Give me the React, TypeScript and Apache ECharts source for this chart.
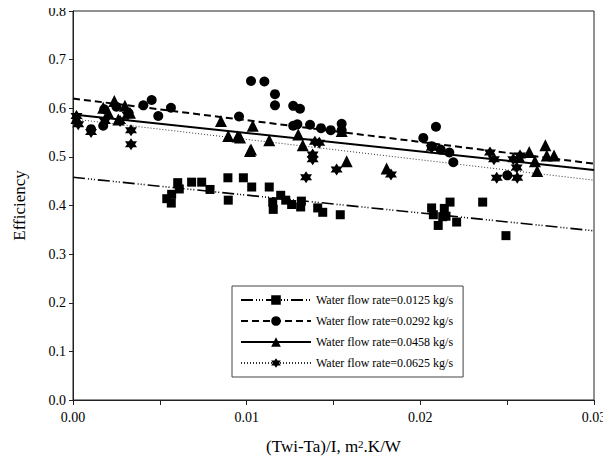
import React, { useEffect, useRef } from "react";
import * as echarts from "echarts";

const legendNames = [
  "Water flow rate=0.0125 kg/s",
  "Water flow rate=0.0292 kg/s",
  "Water flow rate=0.0458 kg/s",
  "Water flow rate=0.0625 kg/s",
];

const xTicks = [0, 0.01, 0.02, 0.03];
const yTicks = [0, 0.1, 0.2, 0.3, 0.4, 0.5, 0.6, 0.7, 0.8];

const squarePts: [number, number][] = [
  [0.0054, 0.414], [0.00568, 0.423], [0.00566, 0.405], [0.00603, 0.447], [0.00612, 0.434],
  [0.00683, 0.448], [0.00741, 0.448], [0.00789, 0.433], [0.00892, 0.457], [0.00894, 0.411],
  [0.00981, 0.457], [0.01029, 0.438], [0.0113, 0.438], [0.01196, 0.421], [0.0115, 0.407],
  [0.01153, 0.392], [0.01225, 0.411], [0.01259, 0.402], [0.01315, 0.409], [0.01311, 0.397],
  [0.01409, 0.395], [0.01438, 0.386], [0.01539, 0.381], [0.02065, 0.395], [0.02075, 0.381],
  [0.02103, 0.359], [0.02171, 0.407], [0.02138, 0.394], [0.02129, 0.377], [0.02148, 0.378],
  [0.02209, 0.366], [0.02359, 0.407], [0.02493, 0.338],
];

const circlePts: [number, number][] = [
  [0.00104, 0.557], [0.00174, 0.564], [0.0018, 0.598], [0.0025, 0.603], [0.0032, 0.59],
  [0.00405, 0.606], [0.00453, 0.617], [0.00491, 0.584], [0.00564, 0.601], [0.00956, 0.583],
  [0.01025, 0.656], [0.01102, 0.655], [0.01163, 0.629], [0.01163, 0.606], [0.01268, 0.605],
  [0.01307, 0.599], [0.01268, 0.564], [0.01292, 0.567], [0.01365, 0.566], [0.01428, 0.559],
  [0.01484, 0.555], [0.01547, 0.568], [0.01547, 0.555], [0.02017, 0.539], [0.0209, 0.562],
  [0.02065, 0.522], [0.02117, 0.515], [0.02167, 0.509], [0.0219, 0.489], [0.02501, 0.462],
];

const trianglePts: [number, number][] = [
  [0.0002, 0.58], [0.00174, 0.601], [0.00238, 0.615], [0.00299, 0.605], [0.00203, 0.591],
  [0.00261, 0.577], [0.00328, 0.591], [0.00852, 0.574], [0.00894, 0.543], [0.00948, 0.542],
  [0.01019, 0.512], [0.01035, 0.564], [0.00962, 0.54], [0.01025, 0.515], [0.0113, 0.534],
  [0.01297, 0.546], [0.01323, 0.524], [0.01547, 0.553], [0.01576, 0.491], [0.01806, 0.476],
  [0.02627, 0.51], [0.0272, 0.524], [0.02728, 0.503], [0.0277, 0.503], [0.0266, 0.491],
  [0.02673, 0.471], [0.0257, 0.5],
];

const starPts: [number, number][] = [
  [0.0002, 0.584], [0.0003, 0.567], [0.00104, 0.551], [0.00334, 0.555], [0.00334, 0.526],
  [0.00184, 0.574], [0.00271, 0.574], [0.00315, 0.586], [0.0138, 0.505], [0.0138, 0.495],
  [0.01393, 0.531], [0.01418, 0.529], [0.01518, 0.474], [0.01342, 0.458], [0.01831, 0.464],
  [0.02065, 0.519], [0.02401, 0.509], [0.02424, 0.495], [0.0244, 0.457], [0.02535, 0.495],
  [0.02555, 0.478], [0.02558, 0.457], [0.02574, 0.503],
];

const fitSquare: [number, number][] = [[0, 0.458], [0.03, 0.348]];
const fitCircle: [number, number][] = [[0, 0.62], [0.03, 0.486]];
const fitTriangle: [number, number][] = [[0, 0.587], [0.03, 0.473]];
const fitStar: [number, number][] = [[0, 0.578], [0.03, 0.452]];

const STAR =
  "path://M0,-10 L2.887,-5 L8.66,-5 L5.774,0 L8.66,5 L2.887,5 L0,10 L-2.887,5 L-8.66,5 L-5.774,0 L-8.66,-5 L-2.887,-5 Z";

const FONT = "'Liberation Serif', 'Times New Roman', serif";

export default function App() {
  const ref = useRef<HTMLDivElement>(null);
  useEffect(() => {
    if (!ref.current) return;
    const chart = echarts.init(ref.current, undefined, { renderer: "svg" });
    const lineSeries = (name: string, data: [number, number][], symbol: string, lineStyle: any) => ({
      name,
      type: "line",
      data,
      symbol,
      showSymbol: false,
      itemStyle: { color: "#000" },
      lineStyle,
      silent: true,
      z: 2,
    });
    const scatter = (name: string, data: [number, number][], symbol: string, size: number) => ({
      name,
      type: "scatter",
      data,
      symbol,
      symbolSize: size,
      itemStyle: { color: "#000", opacity: 1 },
      z: 3,
    });
    chart.setOption({
      animation: false,
      backgroundColor: "#fff",
      grid: {
        left: 73,
        right: 17,
        top: 11,
        bottom: 66,
        show: true,
        borderColor: "#222",
        borderWidth: 1,
      },
      legend: {
        data: legendNames,
        orient: "vertical",
        left: 232,
        top: 286,
        itemWidth: 70,
        itemHeight: 12,
        itemGap: 9,
        padding: [8, 10, 8, 8],
        borderColor: "#444",
        borderWidth: 1,
        textStyle: { fontFamily: FONT, fontSize: 12, color: "#000" },
        selectedMode: false,
      },
      xAxis: {
        type: "value",
        min: xTicks[0],
        max: xTicks[xTicks.length - 1],
        interval: 0.01,
        name: "(Twi-Ta)/I, m{sup|2}.K/W",
        nameLocation: "middle",
        nameGap: 38,
        nameTextStyle: {
          fontFamily: FONT,
          fontSize: 17,
          color: "#000",
          verticalAlign: "top",
          rich: {
            sup: { fontFamily: FONT, fontSize: 11, color: "#000", verticalAlign: "top" },
          },
        },
        axisLine: { show: true, lineStyle: { color: "#222", width: 1 } },
        axisTick: { show: true, length: 5, lineStyle: { color: "#222" } },
        minorTick: { show: true, splitNumber: 2, length: 5, lineStyle: { color: "#222" } },
        splitLine: { show: false },
        axisLabel: {
          fontFamily: FONT,
          fontSize: 14,
          color: "#000",
          margin: 10,
          formatter: (v: number) => v.toFixed(2),
        },
      },
      yAxis: {
        type: "value",
        min: yTicks[0],
        max: yTicks[yTicks.length - 1],
        interval: 0.1,
        name: "Efficiency",
        nameLocation: "middle",
        nameGap: 45,
        nameRotate: 90,
        nameTextStyle: { fontFamily: FONT, fontSize: 17, color: "#000" },
        axisLine: { show: true, lineStyle: { color: "#222", width: 1 } },
        axisTick: { show: true, length: 4, lineStyle: { color: "#222" } },
        splitLine: { show: false },
        axisLabel: {
          fontFamily: FONT,
          fontSize: 14,
          color: "#000",
          margin: 7,
          formatter: (v: number) => v.toFixed(1),
        },
      },
      series: [
        lineSeries(legendNames[0], fitSquare, "rect", { color: "#000", width: 1.6, type: [12, 3, 1, 2, 1, 2, 1, 3] }),
        lineSeries(legendNames[1], fitCircle, "circle", { color: "#000", width: 2, type: [7, 4] }),
        lineSeries(legendNames[2], fitTriangle, "triangle", { color: "#000", width: 2, type: "solid" }),
        lineSeries(legendNames[3], fitStar, STAR, { color: "#333", width: 1, type: [1, 2] }),
        scatter("sq", squarePts, "rect", 9),
        scatter("ci", circlePts, "circle", 10),
        scatter("tr", trianglePts, "triangle", 12),
        scatter("st", starPts, STAR, 12),
      ],
    });
    return () => chart.dispose();
  }, []);
  return <div ref={ref} style={{ width: 611, height: 466, margin: -8 }} />;
}
